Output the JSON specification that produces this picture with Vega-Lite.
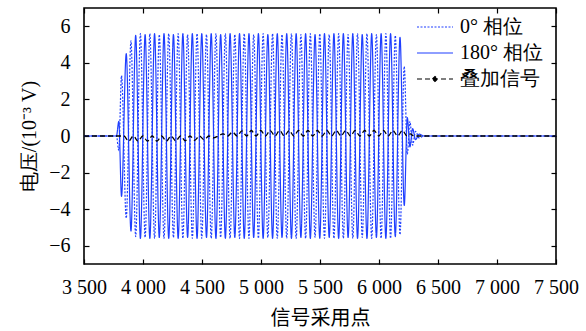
{
  "$schema": "https://vega.github.io/schema/vega-lite/v6.json",
  "width": 472,
  "height": 256,
  "autosize": "none",
  "padding": {"left": 84, "top": 8, "right": 30, "bottom": 67},
  "config": {
    "view": {"stroke": "black", "strokeWidth": 1.6},
    "axis": {
      "domain": false, "grid": false, "tickColor": "black", "tickSize": -5, "tickWidth": 1.2,
      "labelFlush": false, "labelOverlap": false, "labelColor": "black", "titleColor": "black", "titleFontWeight": "normal"
    }
  },
  "layer": [
    {
      "data": {"values": [
        {"x": 3500, "p0": 0, "p180": 0},
        {"x": 3775, "p0": 0, "p180": 0},
        {"x": 3795, "p0": -0.8, "p180": 0.8},
        {"x": 3818, "p0": 3.3, "p180": -3.3},
        {"x": 3858, "p0": -4.5, "p180": 4.5},
        {"x": 3898, "p0": 5.2, "p180": -5.2},
        {"x": 3938, "p0": -5.5, "p180": 5.5},
        {"x": 3978, "p0": 5.6, "p180": -5.6},
        {"x": 4018, "p0": -5.55, "p180": 5.55},
        {"x": 4058, "p0": 5.6, "p180": -5.6},
        {"x": 4098, "p0": -5.6, "p180": 5.6},
        {"x": 4138, "p0": 5.55, "p180": -5.55},
        {"x": 4178, "p0": -5.6, "p180": 5.6},
        {"x": 4218, "p0": 5.6, "p180": -5.6},
        {"x": 4258, "p0": -5.55, "p180": 5.55},
        {"x": 4298, "p0": 5.6, "p180": -5.6},
        {"x": 4338, "p0": -5.6, "p180": 5.6},
        {"x": 4378, "p0": 5.55, "p180": -5.55},
        {"x": 4418, "p0": -5.6, "p180": 5.6},
        {"x": 4458, "p0": 5.6, "p180": -5.6},
        {"x": 4498, "p0": -5.6, "p180": 5.6},
        {"x": 4538, "p0": 5.55, "p180": -5.55},
        {"x": 4578, "p0": -5.6, "p180": 5.6},
        {"x": 4618, "p0": 5.6, "p180": -5.6},
        {"x": 4658, "p0": -5.55, "p180": 5.55},
        {"x": 4698, "p0": 5.6, "p180": -5.6},
        {"x": 4738, "p0": -5.6, "p180": 5.6},
        {"x": 4778, "p0": 5.55, "p180": -5.55},
        {"x": 4818, "p0": -5.6, "p180": 5.6},
        {"x": 4858, "p0": 5.6, "p180": -5.6},
        {"x": 4898, "p0": -5.6, "p180": 5.6},
        {"x": 4938, "p0": 5.55, "p180": -5.55},
        {"x": 4978, "p0": -5.6, "p180": 5.6},
        {"x": 5018, "p0": 5.6, "p180": -5.6},
        {"x": 5058, "p0": -5.55, "p180": 5.55},
        {"x": 5098, "p0": 5.6, "p180": -5.6},
        {"x": 5138, "p0": -5.6, "p180": 5.6},
        {"x": 5178, "p0": 5.55, "p180": -5.55},
        {"x": 5218, "p0": -5.6, "p180": 5.6},
        {"x": 5258, "p0": 5.6, "p180": -5.6},
        {"x": 5298, "p0": -5.6, "p180": 5.6},
        {"x": 5338, "p0": 5.55, "p180": -5.55},
        {"x": 5378, "p0": -5.6, "p180": 5.6},
        {"x": 5418, "p0": 5.6, "p180": -5.6},
        {"x": 5458, "p0": -5.55, "p180": 5.55},
        {"x": 5498, "p0": 5.6, "p180": -5.6},
        {"x": 5538, "p0": -5.6, "p180": 5.6},
        {"x": 5578, "p0": 5.55, "p180": -5.55},
        {"x": 5618, "p0": -5.6, "p180": 5.6},
        {"x": 5658, "p0": 5.6, "p180": -5.6},
        {"x": 5698, "p0": -5.6, "p180": 5.6},
        {"x": 5738, "p0": 5.55, "p180": -5.55},
        {"x": 5778, "p0": -5.6, "p180": 5.6},
        {"x": 5818, "p0": 5.6, "p180": -5.6},
        {"x": 5858, "p0": -5.55, "p180": 5.55},
        {"x": 5898, "p0": 5.6, "p180": -5.6},
        {"x": 5938, "p0": -5.6, "p180": 5.6},
        {"x": 5978, "p0": 5.55, "p180": -5.55},
        {"x": 6018, "p0": -5.6, "p180": 5.6},
        {"x": 6058, "p0": 5.6, "p180": -5.6},
        {"x": 6098, "p0": -5.6, "p180": 5.6},
        {"x": 6138, "p0": 5.5, "p180": -5.5},
        {"x": 6178, "p0": -5.4, "p180": 5.4},
        {"x": 6214, "p0": 3.8, "p180": -3.8},
        {"x": 6240, "p0": -1.0, "p180": 1.0},
        {"x": 6262, "p0": 0.8, "p180": -0.6},
        {"x": 6285, "p0": -0.5, "p180": 0.4},
        {"x": 6310, "p0": 0.25, "p180": -0.2},
        {"x": 6340, "p0": -0.1, "p180": 0.1},
        {"x": 6380, "p0": 0, "p180": 0},
        {"x": 7500, "p0": 0, "p180": 0}
      ]},
      "transform": [{"fold": ["p180", "p0"], "as": ["s", "v"]}],
      "mark": {"type": "line", "interpolate": "monotone", "strokeWidth": 1.2, "clip": true},
      "encoding": {
        "x": {"field": "x", "type": "quantitative",
          "scale": {"domain": [3500, 7500], "nice": false, "zero": false},
          "axis": {"orient": "bottom", "title": "信号采用点", "values": [3500, 4000, 4500, 5000, 5500, 6000, 6500, 7000, 7500],
            "labelFont": "Liberation Serif", "labelFontSize": 20, "titleFont": "Noto Sans CJK SC", "titleFontSize": 20,
            "labelExpr": "replace(format(datum.value, ','), ',', ' ')", "labelPadding": 18, "titlePadding": 11}},
        "y": {"field": "v", "type": "quantitative",
          "scale": {"domain": [-7, 7], "nice": false, "zero": false},
          "axis": {"orient": "left", "title": "电压/(10⁻³ V)", "values": [-6, -4, -2, 0, 2, 4, 6], "labelPadding": 19, "titlePadding": 9,
            "labelFont": "Liberation Serif", "labelFontSize": 20, "titleFont": "Liberation Serif", "titleFontSize": 20}},
        "color": {"field": "s", "type": "nominal",
          "scale": {"domain": ["p0", "p180", "sum"], "range": ["#1f3fff", "#1f3fff", "#000000"]},
          "legend": {"title": null, "orient": "none", "legendX": 332, "legendY": 7, "padding": 0, "symbolType": "stroke", "symbolSize": 1296, "symbolStrokeWidth": 1.2, "labelOffset": 6, "rowPadding": 2, "clipHeight": 24,
            "labelFont": "Liberation Serif", "labelFontSize": 20, "labelColor": "black",
            "labelExpr": "datum.label === 'p0' ? '0° 相位' : datum.label === 'p180' ? '180° 相位' : '叠加信号'",
            "encode": {"symbols": {"update": {
              "shape": {"signal": "datum.value === 'sum' ? 'M-1,0H1M-0.14,0L0,-0.14L0.14,0L0,0.14Z' : 'stroke'"},
              "fill": {"signal": "datum.value === 'sum' ? 'black' : 'transparent'"}}}}}},
        "strokeDash": {"field": "s", "type": "nominal",
          "scale": {"domain": ["p0", "p180", "sum"], "range": [[2, 1.5], [1, 0], [5, 3]]},
          "legend": {"title": null, "orient": "none", "legendX": 332, "legendY": 7, "padding": 0, "symbolType": "stroke", "symbolSize": 1296, "symbolStrokeWidth": 1.2, "labelOffset": 6, "rowPadding": 2, "clipHeight": 24,
            "labelFont": "Liberation Serif", "labelFontSize": 20, "labelColor": "black",
            "labelExpr": "datum.label === 'p0' ? '0° 相位' : datum.label === 'p180' ? '180° 相位' : '叠加信号'",
            "encode": {"symbols": {"update": {
              "shape": {"signal": "datum.value === 'sum' ? 'M-1,0H1M-0.14,0L0,-0.14L0.14,0L0,0.14Z' : 'stroke'"},
              "fill": {"signal": "datum.value === 'sum' ? 'black' : 'transparent'"}}}}}}
      }
    },
    {
      "data": {"values": [
        {"x": 3500, "sum": 0},
        {"x": 3838, "sum": 0}, {"x": 3878, "sum": -0.28},
        {"x": 3918, "sum": 0}, {"x": 3958, "sum": -0.28},
        {"x": 3998, "sum": 0}, {"x": 4038, "sum": -0.28},
        {"x": 4078, "sum": 0}, {"x": 4118, "sum": -0.28},
        {"x": 4158, "sum": 0}, {"x": 4198, "sum": -0.28},
        {"x": 4238, "sum": 0}, {"x": 4278, "sum": -0.27},
        {"x": 4318, "sum": 0}, {"x": 4358, "sum": -0.26},
        {"x": 4398, "sum": 0}, {"x": 4438, "sum": -0.24},
        {"x": 4478, "sum": 0}, {"x": 4518, "sum": -0.2},
        {"x": 4558, "sum": 0}, {"x": 4598, "sum": -0.1},
        {"x": 4638, "sum": 0}, {"x": 4678, "sum": 0.12},
        {"x": 4718, "sum": 0}, {"x": 4758, "sum": 0.22},
        {"x": 4798, "sum": 0}, {"x": 4838, "sum": 0.28},
        {"x": 4878, "sum": 0}, {"x": 4918, "sum": 0.3},
        {"x": 4958, "sum": 0}, {"x": 4998, "sum": 0.3},
        {"x": 5038, "sum": 0}, {"x": 5078, "sum": 0.3},
        {"x": 5118, "sum": 0}, {"x": 5158, "sum": 0.3},
        {"x": 5198, "sum": 0}, {"x": 5238, "sum": 0.3},
        {"x": 5278, "sum": 0}, {"x": 5318, "sum": 0.3},
        {"x": 5358, "sum": 0}, {"x": 5398, "sum": 0.3},
        {"x": 5438, "sum": 0}, {"x": 5478, "sum": 0.3},
        {"x": 5518, "sum": 0}, {"x": 5558, "sum": 0.3},
        {"x": 5598, "sum": 0}, {"x": 5638, "sum": 0.3},
        {"x": 5678, "sum": 0}, {"x": 5718, "sum": 0.3},
        {"x": 5758, "sum": 0}, {"x": 5798, "sum": 0.3},
        {"x": 5838, "sum": 0}, {"x": 5878, "sum": 0.3},
        {"x": 5918, "sum": 0}, {"x": 5958, "sum": 0.3},
        {"x": 5998, "sum": 0}, {"x": 6038, "sum": 0.3},
        {"x": 6078, "sum": 0}, {"x": 6118, "sum": 0.3},
        {"x": 6158, "sum": 0}, {"x": 6198, "sum": 0.3},
        {"x": 6238, "sum": 0}, {"x": 6265, "sum": 0.12},
        {"x": 6295, "sum": 0},
        {"x": 7500, "sum": 0}
      ]},
      "transform": [{"fold": ["sum"], "as": ["s", "v"]}],
      "mark": {"type": "line", "interpolate": "monotone", "strokeWidth": 1.3, "clip": true},
      "encoding": {
        "x": {"field": "x", "type": "quantitative", "axis": null},
        "y": {"field": "v", "type": "quantitative", "axis": null},
        "color": {"field": "s", "type": "nominal"},
        "strokeDash": {"field": "s", "type": "nominal"}
      }
    },
    {
      "data": {"values": [{"x": 3500, "v": 0}]},
      "mark": {"type": "point", "opacity": 0},
      "encoding": {
        "x": {"field": "x", "type": "quantitative",
          "axis": {"orient": "top", "labels": false, "title": null, "values": [3500, 4000, 4500, 5000, 5500, 6000, 6500, 7000, 7500]}},
        "y": {"field": "v", "type": "quantitative",
          "axis": {"orient": "right", "labels": false, "title": null, "values": [-6, -4, -2, 0, 2, 4, 6]}}
      }
    }
  ],
  "resolve": {"axis": {"x": "independent", "y": "independent"}}
}
